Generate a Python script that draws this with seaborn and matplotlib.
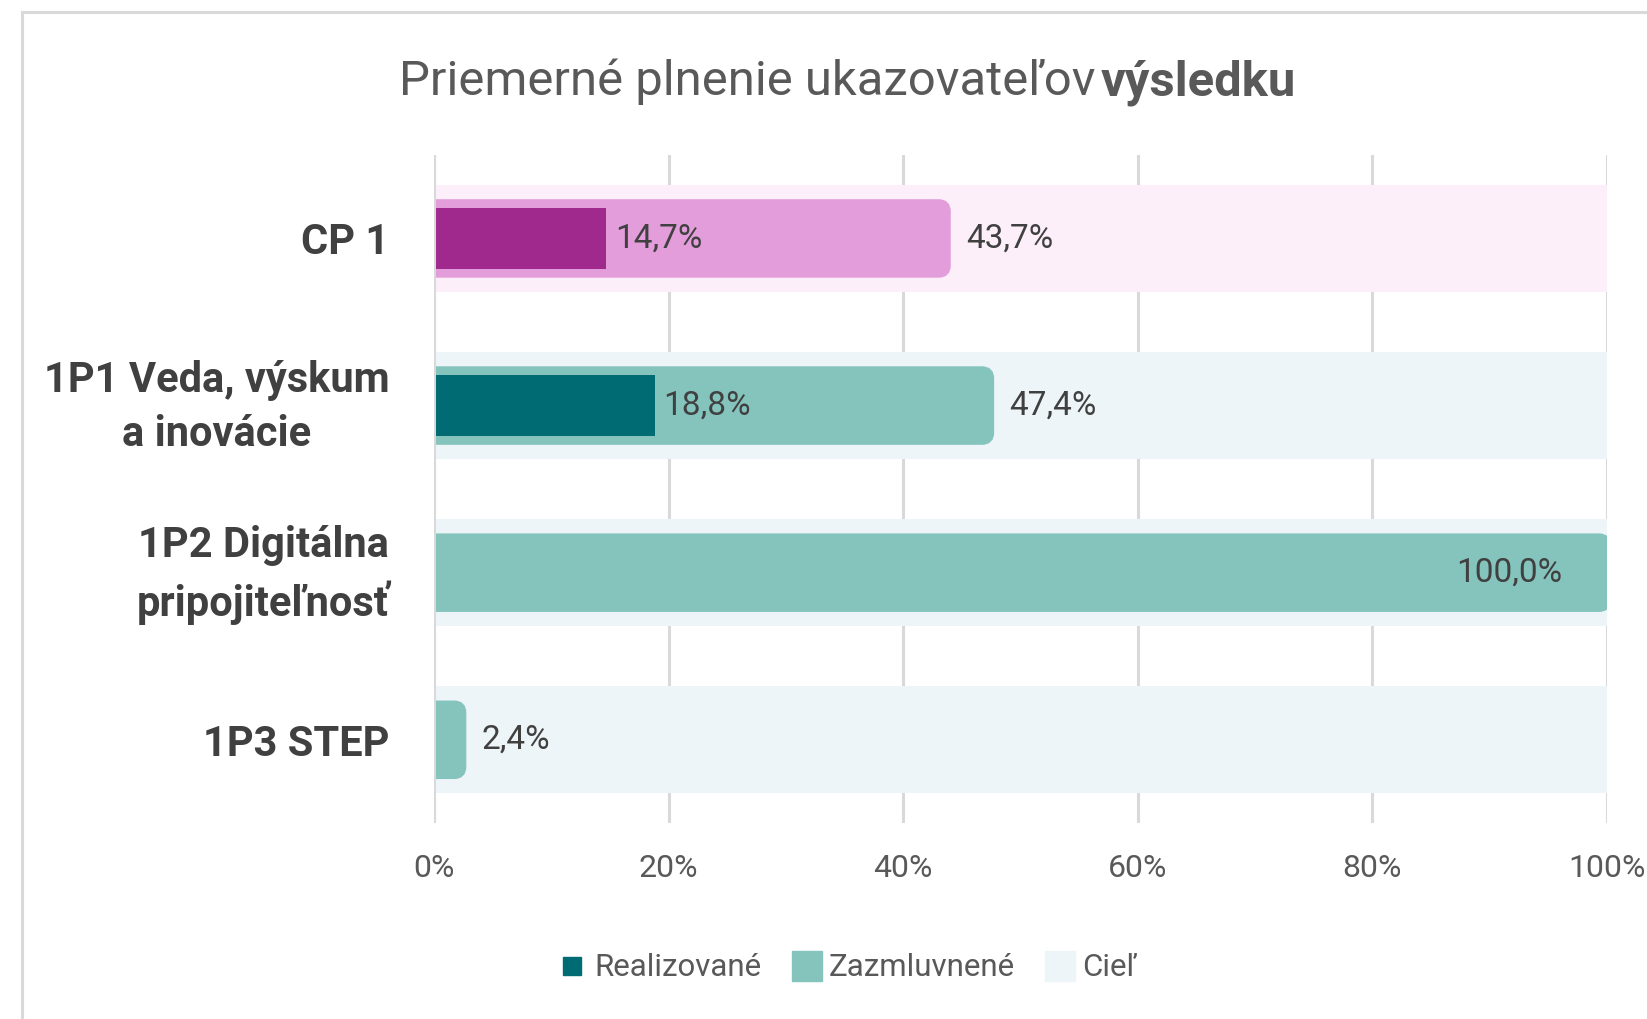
import numpy as np
import pandas as pd
import seaborn as sns
import matplotlib.pyplot as plt
import matplotlib.transforms as mtrans
from matplotlib.patches import FancyBboxPatch, Rectangle
from matplotlib.lines import Line2D

#--> data
categories = ["CP 1", "1P1 Veda, výskum\na inovácie", "1P2 Digitálna\npripojiteľnosť", "1P3 STEP"]
realizovane = [14.7, 18.8, 0.0, 0.0]
zazmluvnene = [43.7, 47.4, 100.0, 2.4]
ciel = [100.0, 100.0, 100.0, 100.0]
x_ticks = [0, 20, 40, 60, 80, 100]

#--> colors per row
dark_cols = ["#A0298E", "#006B73", "#006B73", "#006B73"]
mid_cols = ["#E39DDB", "#84C4BD", "#84C4BD", "#84C4BD"]
bg_cols = ["#FCEFF9", "#EDF5F8", "#EDF5F8", "#EDF5F8"]

sns.set_theme(style="white")
plt.rcParams['font.family'] = ['Roboto', 'DejaVu Sans']

df = pd.DataFrame({"cat": categories, "real": realizovane, "zaz": zazmluvnene, "ciel": ciel})

fig = plt.figure(figsize=(16.47, 10.19), dpi=100)
ax = fig.add_axes([0.2635, 0.192, 0.7122, 0.656])

sns.barplot(data=df, y="cat", x="ciel", hue="cat", palette=bg_cols, width=0.64,
            legend=False, ax=ax, zorder=2, linewidth=0, saturation=1)
n_bg = len(ax.patches)
sns.barplot(data=df, y="cat", x="zaz", hue="cat", palette=mid_cols, width=0.42,
            legend=False, ax=ax, zorder=3, linewidth=0, saturation=1)
n_mid = len(ax.patches)
sns.barplot(data=df, y="cat", x="real", hue="cat", palette=dark_cols, width=0.36,
            legend=False, ax=ax, zorder=4, linewidth=0, saturation=1)

ax.set_xlim(0, 100)
ax.set_ylim(3.5, -0.5)

# round the "zazmluvnene" bars (right side)
fig.canvas.draw()
px_x = ax.bbox.width / 100.0
px_y = ax.bbox.height / 4.0
aspect = px_x / px_y
r = 8 / px_x
for p in list(ax.patches[n_bg:n_mid]):
    x0, y0 = p.get_x(), p.get_y()
    w, h = p.get_width(), p.get_height()
    if w <= 0:
        p.remove()
        continue
    fb = FancyBboxPatch((x0 - 2 * r, y0), w + 2 * r, h,
                        boxstyle=f"round,pad=0,rounding_size={r}",
                        mutation_aspect=aspect, facecolor=p.get_facecolor(),
                        edgecolor=p.get_facecolor(), linewidth=6, zorder=3)
    p.remove()
    ax.add_patch(fb)

# data labels
lab_col = "#404040"
for i, (rv, zv) in enumerate(zip(realizovane, zazmluvnene)):
    if rv > 0:
        ax.annotate(f"{rv:.1f}%".replace(".", ","), (rv, i), xytext=(6, 0),
                    textcoords="offset points", va="center", ha="left",
                    fontsize=24, color=lab_col, zorder=6)
    if zv >= 90:
        ax.annotate(f"{zv:.1f}%".replace(".", ","), (zv, i), xytext=(-32, 0),
                    textcoords="offset points", va="center", ha="right",
                    fontsize=24, color=lab_col, zorder=6)
    elif zv > 0:
        ax.annotate(f"{zv:.1f}%".replace(".", ","), (zv, i), xytext=(14, 0),
                    textcoords="offset points", va="center", ha="left",
                    fontsize=24, color=lab_col, zorder=6)

# axes styling
ax.set_xticks(x_ticks)
ax.set_xticklabels([f"{t}%" for t in x_ticks])
ax.xaxis.grid(True, color="#D9D9D9", linewidth=2.2, zorder=0)
ax.set_axisbelow(True)
ax.axvline(0, color="#D9D9D9", linewidth=2.2, zorder=7)
for s in ax.spines.values():
    s.set_visible(False)
ax.set_xlabel("")
ax.set_ylabel("")
ax.tick_params(axis="x", length=0, pad=22, labelsize=23, labelcolor="#595959")
ax.tick_params(axis="y", length=0, pad=32, labelsize=30, labelcolor="#404040")
lift = mtrans.ScaledTranslation(0, 9 / 100, fig.dpi_scale_trans)
for lbl in ax.get_yticklabels():
    lbl.set_fontweight("bold")
    lbl.set_multialignment("center")
    lbl.set_linespacing(1.4)
    if "\n" in lbl.get_text():
        lbl.set_transform(lbl.get_transform() + lift)

# title: regular part + bold part
t1 = fig.text(0.2423, 1 - 95 / 1019, "Priemerné plnenie ukazovateľov ", fontsize=35.3,
              color="#595959", ha="left", va="baseline")
fig.canvas.draw()
bb = t1.get_window_extent()
fig.text(bb.x1 / fig.bbox.width - 0.004, 1 - 95 / 1019, "výsledku", fontsize=35.3,
         fontweight="bold", color="#595959", ha="left", va="baseline")

# legend
handles = [
    Line2D([], [], marker="s", linestyle="none", markersize=13, color="#006B73"),
    Line2D([], [], marker="s", linestyle="none", markersize=22, color="#84C4BD"),
    Line2D([], [], marker="s", linestyle="none", markersize=22, color="#EDF5F8"),
]
fig.legend(handles, ["Realizované", "Zazmluvnené", "Cieľ"], loc="center",
           bbox_to_anchor=(0.514, 1 - 968 / 1019), ncol=3, frameon=False,
           fontsize=22.5, labelcolor="#595959", handlelength=1.0,
           handletextpad=0.2, columnspacing=0.95)

# outer frame
fig.patches.append(Rectangle((22 / 1647, -0.2), 1.5, 0.2 + 1 - 12 / 1019,
                             transform=fig.transFigure, fill=False,
                             edgecolor="#D9D9D9", linewidth=2.2, zorder=0))

fig.savefig("out.png", dpi=100)
